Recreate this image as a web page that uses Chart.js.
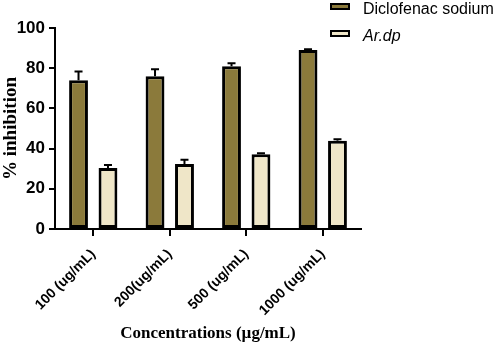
<!DOCTYPE html>
<html>
<head>
<meta charset="utf-8">
<script src="https://cdn.jsdelivr.net/npm/chart.js@4"></script>
<style>
    body { margin: 0; background: #fff; }
    #wrap { position: relative; width: 498px; height: 345px; }
    .legend-item { position: absolute; left: 330px; font: 16px 'Liberation Sans', Arial, sans-serif; color: #000; white-space: nowrap; }
    .legend-box { position: absolute; left: 0; width: 16px; height: 3px; border: 2px solid #000; }
    .legend-text { position: absolute; left: 33px; top: -3px; line-height: 18px; }
</style>
</head>
<body>
<div id="wrap">
    <canvas id="chart" width="498" height="345"></canvas>
    <div class="legend-item" style="top:3px">
        <div class="legend-box" style="background:#8b7a3b"></div>
        <div class="legend-text">Diclofenac sodium</div>
    </div>
    <div class="legend-item" style="top:30px">
        <div class="legend-box" style="background:#efe6c8"></div>
        <div class="legend-text" style="font-style:italic">Ar.dp</div>
    </div>
</div>
<script>
// data
const categories = ['100 (ug/mL)', '200(ug/mL)', '500 (ug/mL)', '1000 (ug/mL)'];
const diclofenac = [74, 76, 81, 89];
const diclofenacErr = [4.4, 3.5, 1.5, 0.4];
const ardp = [30.3, 32.3, 37.2, 43.9];
const ardpErr = [1.5, 2.2, 0.5, 0.7];

const oliveColor = '#8b7a3b';
const beigeColor = '#efe6c8';
const sansBold = {family: "'Liberation Sans', Arial, sans-serif", size: 17, weight: 'bold'};
const serifBold = {family: "'Liberation Serif', 'Times New Roman', serif", size: 17, weight: 'bold'};

// upper error bars with a cap, drawn from the bar scale
const errorBars = {
    id: 'errorBars',
    afterDatasetsDraw(chart) {
        const ctx = chart.ctx;
        const yScale = chart.scales.y;
        ctx.save();
        ctx.strokeStyle = '#000';
        ctx.lineWidth = 2;
        chart.data.datasets.forEach((ds, i) => {
            const meta = chart.getDatasetMeta(i);
            meta.data.forEach((bar, j) => {
                const err = ds.errors[j];
                const yTop = yScale.getPixelForValue(ds.data[j] + err);
                ctx.beginPath();
                ctx.moveTo(bar.x, bar.y);
                ctx.lineTo(bar.x, yTop);
                ctx.moveTo(bar.x - 4, yTop);
                ctx.lineTo(bar.x + 4, yTop);
                ctx.stroke();
            });
        });
        ctx.restore();
    }
};

new Chart(document.getElementById('chart'), {
    type: 'bar',
    data: {
        labels: categories,
        datasets: [{
            label: 'Diclofenac sodium',
            data: diclofenac,
            errors: diclofenacErr,
            backgroundColor: oliveColor,
            borderColor: '#000',
            borderWidth: 3,
            borderSkipped: false
        }, {
            label: 'Ar.dp',
            data: ardp,
            errors: ardpErr,
            backgroundColor: beigeColor,
            borderColor: '#000',
            borderWidth: 3,
            borderSkipped: false
        }]
    },
    options: {
        responsive: false,
        animation: false,
        barPercentage: 0.64,
        categoryPercentage: 0.77,
        layout: {padding: {top: 28, right: 137, left: 0, bottom: 0}},
        plugins: {
            legend: {display: false},
            tooltip: {enabled: false}
        },
        scales: {
            x: {
                grid: {display: true, drawOnChartArea: false, offset: false, color: '#000', lineWidth: 2, tickLength: 7},
                border: {color: '#000', width: 2},
                ticks: {color: '#000', font: {...sansBold, size: 14}, maxRotation: 45, minRotation: 45, padding: 10},
                title: {display: true, text: 'Concentrations (µg/mL)', color: '#000', font: serifBold, padding: {top: 0, bottom: 1}},
                afterFit(scale) { scale.height = 116; }
            },
            y: {
                min: 0,
                max: 100,
                ticks: {stepSize: 20, color: '#000', font: sansBold, padding: 4},
                grid: {display: true, drawOnChartArea: false, color: '#000', lineWidth: 2, tickLength: 6},
                border: {color: '#000', width: 2},
                title: {display: true, text: '% inhibition', color: '#000', font: {...serifBold, size: 19}, padding: 0},
                afterFit(scale) { scale.width = 55; }
            }
        }
    },
    plugins: [errorBars]
});
</script>
</body>
</html>
